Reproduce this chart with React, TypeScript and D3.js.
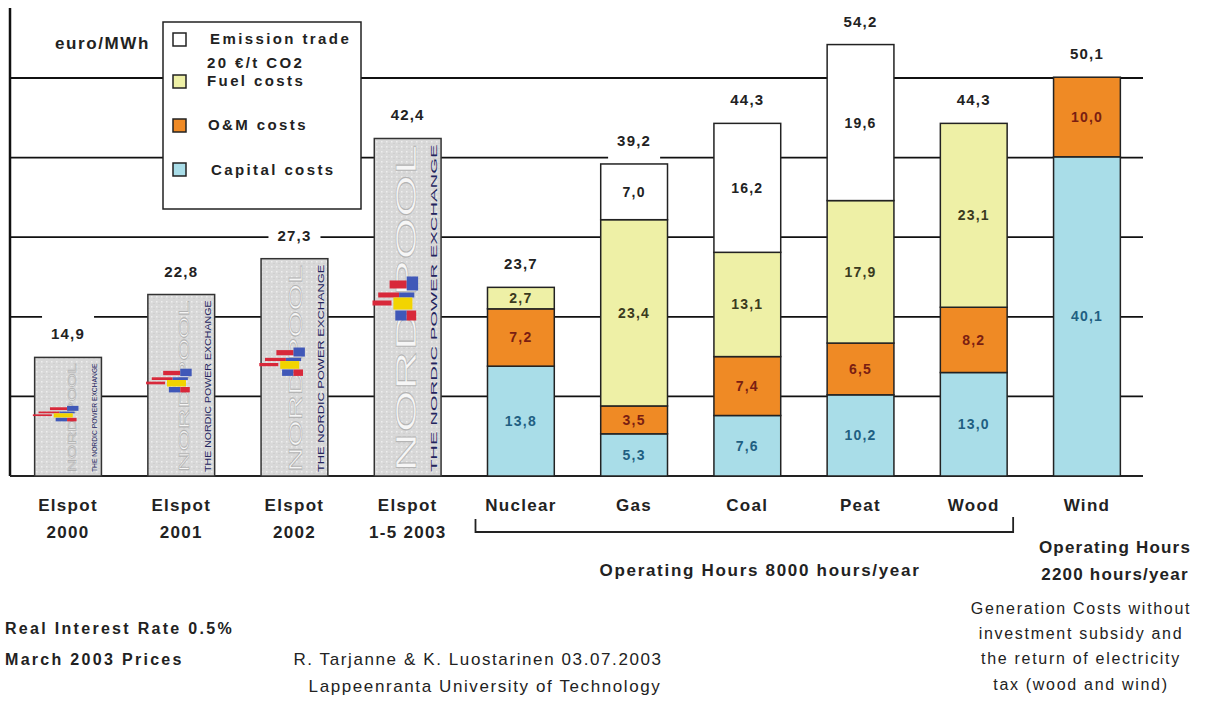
import { useRef, useEffect } from 'react';
import * as d3 from 'd3';

// categories along the x axis (multi-line labels)
const categoryLabels: string[][] = [
  ['Elspot', '2000'],
  ['Elspot', '2001'],
  ['Elspot', '2002'],
  ['Elspot', '1-5 2003'],
  ['Nuclear'],
  ['Gas'],
  ['Coal'],
  ['Peat'],
  ['Wood'],
  ['Wind'],
];

// Nord Pool spot prices, euro/MWh
const elspotNames = ['Elspot 2000', 'Elspot 2001', 'Elspot 2002', 'Elspot 1-5 2003'];
const elspotPrices = [14.9, 22.8, 27.3, 42.4];

// generation cost components, euro/MWh
const plants = ['Nuclear', 'Gas', 'Coal', 'Peat', 'Wood', 'Wind'];
const capitalCosts = [13.8, 5.3, 7.6, 10.2, 13.0, 40.1];
const omCosts = [7.2, 3.5, 7.4, 6.5, 8.2, 10.0];
const fuelCosts = [2.7, 23.4, 13.1, 17.9, 23.1, 0];
const emissionCosts = [0, 7.0, 16.2, 19.6, 0, 0];

const gridTicks = [10, 20, 30, 40, 50];

const FONT = '"Liberation Sans", Arial, sans-serif';

const App = () => {
  const svgRef = useRef<SVGSVGElement>(null);

  useEffect(() => {
    if (!svgRef.current) return;
    const svg = d3.select(svgRef.current);
    svg.selectAll('*').remove();

    const fmt = (v: number) => d3.format('.1f')(v).replace('.', ',');

    const categories = categoryLabels.map(l => l.join(' '));
    const x = d3.scaleBand()
      .domain(categories)
      .range([12, 1143])
      .paddingInner(0.41)
      .paddingOuter(0.2);
    const y = d3.scaleLinear().domain([0, 60]).range([476, -1.6]);
    const bw = x.bandwidth();

    // speckled grey pattern for the Nord Pool bars
    const defs = svg.append('defs');
    const pat = defs.append('pattern')
      .attr('id', 'speckle')
      .attr('width', 5)
      .attr('height', 5)
      .attr('patternUnits', 'userSpaceOnUse');
    pat.append('rect').attr('width', 5).attr('height', 5).attr('fill', '#d8d8d8');
    pat.append('rect').attr('x', 1).attr('y', 1).attr('width', 1.5).attr('height', 1.5).attr('fill', '#eeeeee');
    pat.append('rect').attr('x', 3.5).attr('y', 3).attr('width', 1).attr('height', 1).attr('fill', '#c6c6c6');

    // gridlines
    svg.append('g')
      .selectAll('line')
      .data(gridTicks)
      .enter()
      .append('line')
      .attr('x1', 10)
      .attr('x2', 1143)
      .attr('y1', d => y(d))
      .attr('y2', d => y(d))
      .attr('stroke', '#111')
      .attr('stroke-width', 1.8);

    // axis lines
    svg.append('line')
      .attr('x1', 10).attr('x2', 10)
      .attr('y1', 8).attr('y2', y(0))
      .attr('stroke', '#111').attr('stroke-width', 2.5);
    svg.append('line')
      .attr('x1', 10).attr('x2', 1143)
      .attr('y1', y(0)).attr('y2', y(0))
      .attr('stroke', '#222').attr('stroke-width', 2);

    // unit label
    svg.append('text')
      .attr('x', 55).attr('y', 49)
      .style('font-family', FONT).style('font-size', '17px').style('font-weight', 'bold')
      .style('letter-spacing', '1.6px')
      .attr('fill', '#222')
      .text('euro/MWh');

    // legend box
    const legend = svg.append('g');
    legend.append('rect')
      .attr('x', 163).attr('y', 22).attr('width', 198).attr('height', 187)
      .attr('fill', '#fff').attr('stroke', '#222').attr('stroke-width', 1.5);
    const legendItems = [
      { color: '#ffffff', lines: ['Emission trade', '20 €/t CO2'], sy: 40, tx: 210, ty: [44, 68] },
      { color: '#eef0a6', lines: ['Fuel costs'], sy: 82, tx: 207, ty: [86] },
      { color: '#ef8a25', lines: ['O&M costs'], sy: 126, tx: 208, ty: [130] },
      { color: '#a9dde8', lines: ['Capital costs'], sy: 170, tx: 211, ty: [175] },
    ];
    legendItems.forEach(item => {
      legend.append('rect')
        .attr('x', 173).attr('y', item.sy - 7).attr('width', 13).attr('height', 13)
        .attr('fill', item.color).attr('stroke', '#222').attr('stroke-width', 1.5);
      item.lines.forEach((line, i) => {
        legend.append('text')
          .attr('x', i === 0 ? item.tx : 207).attr('y', item.ty[i])
          .style('font-family', FONT).style('font-size', '15px').style('font-weight', 'bold')
          .style('letter-spacing', '2.4px')
          .attr('fill', '#222')
          .text(line);
      });
    });

    // Elspot bars (Nord Pool)
    elspotNames.forEach((name, i) => {
      const v = elspotPrices[i];
      const cat = categories[i];
      const x0 = x(cat) || 0;
      const top = y(v);
      const h = y(0) - top;
      const g = svg.append('g').attr('class', name);
      g.append('rect')
        .attr('x', x0).attr('y', top).attr('width', bw).attr('height', h)
        .attr('fill', 'url(#speckle)').attr('stroke', '#333').attr('stroke-width', 1.5);

      const fs = Math.max(11, Math.min(30, h * 0.085));
      g.append('text')
        .attr('transform', `translate(${x0 + bw * 0.62},${y(0) - 4}) rotate(-90)`)
        .attr('textLength', h - 10)
        .attr('lengthAdjust', 'spacingAndGlyphs')
        .style('font-family', FONT).style('font-size', `${fs}px`)
        .attr('fill', '#f6f6f6').attr('stroke', '#b4b4b4').attr('stroke-width', 0.6)
        .text('NORD POOL');
      g.append('text')
        .attr('transform', `translate(${x0 + bw - 4},${y(0) - 4}) rotate(-90)`)
        .attr('textLength', h - 10)
        .attr('lengthAdjust', 'spacingAndGlyphs')
        .style('font-family', FONT).style('font-size', `${Math.min(9, fs * 0.4 + 3)}px`)
        .attr('fill', '#23245e')
        .text('THE NORDIC POWER EXCHANGE');

      // little flag logo
      const ls = Math.max(0.35, h / 337);
      const lg = g.append('g')
        .attr('transform', `translate(${x0 + bw * 0.4},${y(v * 0.52)}) scale(0.95,${ls})`);
      const parts = [
        { x: -12, y: -20, w: 18, h: 8, c: '#d8283a' },
        { x: 6, y: -24, w: 12, h: 14, c: '#4058b8' },
        { x: -24, y: -8, w: 22, h: 5, c: '#d8283a' },
        { x: -2, y: -8, w: 16, h: 5, c: '#4058b8' },
        { x: -30, y: 0, w: 20, h: 5, c: '#d8283a' },
        { x: -8, y: -3, w: 20, h: 12, c: '#f2d400' },
        { x: -6, y: 10, w: 12, h: 10, c: '#4058b8' },
        { x: 6, y: 10, w: 10, h: 10, c: '#d8283a' },
      ];
      parts.forEach(p => {
        lg.append('rect')
          .attr('x', p.x).attr('y', p.y).attr('width', p.w).attr('height', p.h)
          .attr('fill', p.c);
      });
    });

    // stacked generation costs
    const keys = ['capital', 'om', 'fuel', 'emission'];
    const rows = plants.map((p, i) => ({
      plant: p,
      capital: capitalCosts[i],
      om: omCosts[i],
      fuel: fuelCosts[i],
      emission: emissionCosts[i],
    }));
    const series = d3.stack<any>().keys(keys)(rows);
    const fills: Record<string, string> = {
      capital: '#a9dde8',
      om: '#ef8a25',
      fuel: '#eef0a6',
      emission: '#ffffff',
    };
    const labelColors: Record<string, string> = {
      capital: '#1f5f82',
      om: '#7a1e12',
      fuel: '#3a3a1e',
      emission: '#222',
    };
    const plantCat = (p: string) => categories[4 + plants.indexOf(p)];

    series.forEach(s => {
      const g = svg.append('g');
      s.forEach(d => {
        const val = d[1] - d[0];
        if (val <= 0) return;
        const cat = plantCat(d.data.plant);
        const x0 = x(cat) || 0;
        g.append('rect')
          .attr('x', x0).attr('y', y(d[1]))
          .attr('width', bw).attr('height', y(d[0]) - y(d[1]))
          .attr('fill', fills[s.key]).attr('stroke', '#222').attr('stroke-width', 1.5);
        g.append('text')
          .attr('x', x0 + bw / 2)
          .attr('y', (y(d[0]) + y(d[1])) / 2 + 5)
          .attr('text-anchor', 'middle')
          .style('font-family', FONT).style('font-size', '14px').style('font-weight', 'bold')
          .style('letter-spacing', '1.2px')
          .attr('fill', labelColors[s.key])
          .text(fmt(val));
      });
    });

    // total labels above every bar
    const totals = [
      ...elspotPrices.map((v, i) => ({ cat: categories[i], v })),
      ...rows.map(r => ({ cat: plantCat(r.plant), v: r.capital + r.om + r.fuel + r.emission })),
    ];
    const tg = svg.append('g');
    totals.forEach(t => {
      const cx = (x(t.cat) || 0) + bw / 2;
      const top = y(t.v);
      tg.append('rect')
        .attr('x', cx - 26).attr('y', top - 42).attr('width', 52).attr('height', 38)
        .attr('fill', '#fff');
      tg.append('text')
        .attr('x', cx).attr('y', top - 18)
        .attr('text-anchor', 'middle')
        .style('font-family', FONT).style('font-size', '15px').style('font-weight', 'bold')
        .style('letter-spacing', '1.2px')
        .attr('fill', '#222')
        .text(fmt(t.v));
    });

    // category labels
    const xl = svg.append('g');
    categories.forEach((cat, i) => {
      const cx = (x(cat) || 0) + bw / 2;
      categoryLabels[i].forEach((line, j) => {
        xl.append('text')
          .attr('x', cx).attr('y', 511 + j * 27)
          .attr('text-anchor', 'middle')
          .style('font-family', FONT).style('font-size', '17px').style('font-weight', 'bold')
          .style('letter-spacing', '1.3px')
          .attr('fill', '#222')
          .text(line);
      });
    });

    // bracket under the 8000 h plants
    const bx0 = (x(categories[4]) || 0) - 12;
    const bx1 = (x(categories[8]) || 0) + bw + 6;
    svg.append('path')
      .attr('d', `M${bx0},519 V532 H${bx1} V517`)
      .attr('fill', 'none').attr('stroke', '#222').attr('stroke-width', 1.8);

    const note = (tx: number, ty: number, s: string, bold: boolean, size: number, spacing: number, anchor = 'middle') => {
      svg.append('text')
        .attr('x', tx).attr('y', ty)
        .attr('text-anchor', anchor)
        .style('font-family', FONT).style('font-size', `${size}px`)
        .style('font-weight', bold ? 'bold' : 'normal')
        .style('letter-spacing', `${spacing}px`)
        .attr('fill', '#222')
        .text(s);
    };

    note(760, 576, 'Operating Hours 8000 hours/year', true, 17, 1.7);
    note(1115, 553, 'Operating Hours', true, 17, 1.2);
    note(1115, 580, '2200 hours/year', true, 17, 1.2);
    note(1081, 614, 'Generation Costs without', false, 16, 1.7);
    note(1081, 639, 'investment subsidy and', false, 16, 1.7);
    note(1081, 664, 'the return of electricity', false, 16, 1.7);
    note(1081, 690, 'tax (wood and wind)', false, 16, 1.7);
    note(5, 634, 'Real Interest Rate 0.5%', true, 16, 2.3, 'start');
    note(5, 665, 'March 2003 Prices', true, 16, 2.3, 'start');
    note(478, 665, 'R. Tarjanne & K. Luostarinen 03.07.2003', false, 17, 1.6);
    note(485, 692, 'Lappeenranta University of Technology', false, 17, 1.6);
  }, []);

  return (
    <svg
      ref={svgRef}
      width={1205}
      height={702}
      style={{ position: 'absolute', left: 0, top: 0, background: '#fff' }}
    />
  );
};

export default App;
